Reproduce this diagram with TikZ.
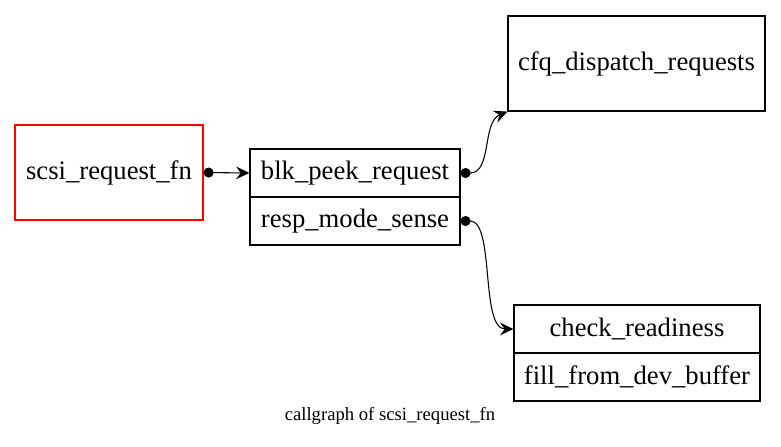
\documentclass[tikz,border=0pt]{standalone}
\usepackage{fontspec}
\setmainfont{Liberation Serif}
\usetikzlibrary{arrows.meta,positioning}

\begin{document}
\begin{tikzpicture}[
  x=0.75pt,y=-0.75pt,
  n/.style={draw=black,line width=0.9pt,inner sep=0pt,font=\fontsize{20}{24}\selectfont},
  a/.style={{Circle[length=7.5pt]}-{Stealth[length=10pt,width=9.5pt,inset=3.5pt]},line width=0.8pt}
]
\useasboundingbox (0,0) rectangle (781,446);
\node[n,draw=red,minimum width=141pt,minimum height=71.25pt] (fn) at (109,172.5) {scsi\_request\_fn};
\node[n,minimum width=157.5pt,minimum height=36pt] (peek) at (355,173) {blk\_peek\_request};
\node[n,minimum width=157.5pt,minimum height=36pt] (sense) at (355,221) {resp\_mode\_sense};
\node[n,minimum width=192.75pt,minimum height=71.25pt] (cfq) at (636.5,63.5) {cfq\_dispatch\_requests};
\node[n,minimum width=184.5pt,minimum height=36pt] (ready) at (637,329) {check\_readiness};
\node[n,minimum width=184.5pt,minimum height=36pt] (fill) at (637,377) {fill\_from\_dev\_buffer};
\node[font=\fontsize{14}{17}\selectfont] (cap) at (390,416) {callgraph of scsi\_request\_fn};
\draw[a] (fn.east) -- (peek.west);
\draw[a] (peek.east) .. controls (492,173) and (482,122) .. (cfq.south west);
\draw[a] (sense.east) .. controls (495,221) and (480,329) .. (ready.west);
\end{tikzpicture}
\end{document}
